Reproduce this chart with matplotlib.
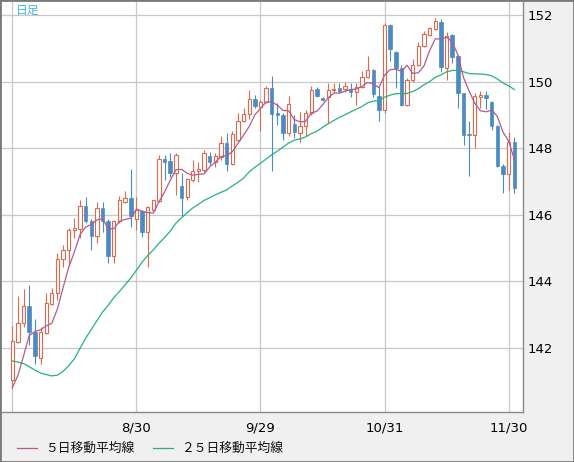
import matplotlib
matplotlib.use('Agg')
import matplotlib.pyplot as plt
import numpy as np
import pandas as pd
from matplotlib.lines import Line2D
from matplotlib.patches import Rectangle

# ---------------- data ----------------
start_date = '2023-07-31'
opens = [141.04, 142.19, 142.74, 143.26, 142.49, 141.69, 142.46, 143.32, 143.66, 144.67,
         144.93, 145.55, 145.57, 146.27, 145.80, 145.35, 146.20, 145.82, 144.77, 145.80,
         146.38, 146.50, 145.86, 146.10, 145.49, 146.15, 146.43, 147.67, 147.63, 147.25,
         146.87, 146.53, 147.04, 147.33, 147.36, 147.78, 147.58, 147.74, 148.16, 147.53,
         148.26, 148.83, 149.02, 149.47, 149.25, 149.40, 149.82, 149.06, 149.01, 148.46,
         148.74, 148.47, 148.68, 149.06, 149.77, 149.52, 149.55, 149.74, 149.80, 149.77,
         149.79, 149.70, 149.84, 150.13, 150.35, 149.57, 149.14, 151.72, 150.90, 150.42,
         149.31, 150.05, 150.50, 151.08, 151.42, 151.58, 151.80, 150.42, 151.41, 150.77,
         149.65, 148.42, 148.41, 149.55, 149.59, 149.40, 148.68, 147.48, 147.22, 148.20]
highs = [142.66, 143.56, 143.76, 143.89, 142.86, 142.64, 143.64, 143.81, 144.85, 145.10,
         145.60, 145.90, 146.45, 146.55, 145.87, 146.40, 146.40, 145.86, 145.84, 146.57,
         146.73, 147.37, 146.53, 146.14, 146.27, 146.45, 147.80, 147.80, 147.87, 147.85,
         147.26, 147.10, 147.66, 147.60, 147.96, 147.88, 147.86, 148.36, 148.46, 148.51,
         149.07, 149.22, 149.74, 149.59, 149.44, 149.87, 150.16, 149.36, 149.06, 149.57,
         149.00, 149.09, 149.16, 149.87, 149.85, 149.55, 149.95, 149.95, 149.95, 149.99,
         149.95, 149.95, 150.32, 150.78, 150.40, 149.84, 151.78, 151.75, 150.92, 150.52,
         150.10, 150.68, 151.20, 151.52, 151.65, 151.92, 151.90, 151.49, 151.45, 150.80,
         149.67, 148.81, 149.67, 149.72, 149.72, 149.42, 148.71, 147.52, 148.48, 148.35]
lows = [140.76, 142.14, 142.64, 142.07, 141.52, 141.52, 142.42, 143.29, 143.44, 144.43,
        144.45, 145.30, 145.30, 145.75, 144.93, 145.15, 145.49, 144.54, 144.56, 145.74,
        146.35, 145.64, 145.54, 145.34, 144.44, 146.12, 146.40, 147.05, 147.15, 146.60,
        145.95, 146.45, 146.98, 147.00, 147.26, 147.50, 147.43, 147.66, 147.31, 147.49,
        148.23, 148.80, 148.87, 149.22, 148.51, 149.37, 147.33, 148.71, 148.25, 148.37,
        148.32, 148.20, 148.37, 149.01, 149.55, 149.43, 148.76, 149.67, 149.67, 149.70,
        149.55, 149.31, 149.81, 150.10, 149.54, 148.81, 149.07, 150.62, 149.81, 149.27,
        149.27, 150.00, 150.48, 151.05, 151.38, 151.55, 150.30, 150.05, 150.57, 149.22,
        148.09, 147.16, 148.01, 149.22, 149.17, 148.56, 147.44, 146.67, 146.75, 146.65]
closes = [142.22, 142.74, 143.26, 142.49, 141.74, 142.47, 143.34, 143.64, 144.67, 144.93,
          145.55, 145.60, 146.27, 145.80, 145.35, 146.20, 145.80, 144.77, 145.80, 146.45,
          146.50, 145.96, 146.15, 145.49, 146.23, 146.44, 147.67, 147.60, 147.25, 147.80,
          146.52, 147.08, 147.31, 147.38, 147.86, 147.58, 147.78, 148.16, 147.53, 148.43,
          148.83, 149.02, 149.47, 149.27, 149.39, 149.82, 149.02, 148.99, 148.47, 149.34,
          148.50, 148.68, 149.06, 149.75, 149.57, 149.46, 149.75, 149.79, 149.72, 149.87,
          149.70, 149.84, 150.15, 150.35, 149.64, 149.14, 151.72, 150.98, 150.42, 149.31,
          150.05, 150.50, 151.08, 151.45, 151.62, 151.82, 150.45, 151.38, 150.74, 149.67,
          148.41, 148.40, 149.57, 149.59, 149.52, 148.66, 147.46, 147.23, 148.20, 146.82]
# closes before the visible window (needed for the moving averages)
warmup_closes = [143.65, 144.45, 144.75, 144.30, 144.65, 144.50, 144.65, 144.10, 142.10,
                 141.35, 140.35, 138.50, 138.10, 138.80, 139.60, 139.25, 139.70, 140.05,
                 141.80, 141.50, 140.90, 140.30, 139.45, 141.15]
grid_labels = ['7/31', '8/30', '9/29', '10/31', '11/30']
shown_labels = ['8/30', '9/29', '10/31', '11/30']
y_ticks = [142, 144, 146, 148, 150, 152]
legend_labels = ['５日移動平均線', '２５日移動平均線']
title_text = '日足'

# ---------------- derived ----------------
o = np.array(opens); h = np.array(highs); l = np.array(lows); c = np.array(closes)
n = len(c)
x = np.arange(n)
dates = pd.bdate_range(start_date, periods=n)
date_txt = [f"{d.month}/{d.day}" for d in dates]
grid_pos = [date_txt.index(s) for s in grid_labels]

series = pd.Series(warmup_closes + closes)
ma5 = series.rolling(5).mean().values[len(warmup_closes):]
ma25 = series.rolling(25).mean().values[len(warmup_closes):]

RED = '#dd6a4f'
BLUE = '#4b8bc2'
PURPLE = '#b55a8e'
GREEN = '#27b27a'
GRID = '#c8c8c8'

W, H = 574, 462
fig = plt.figure(figsize=(W / 100, H / 100), dpi=100, facecolor='#f0f0f0')
ax = fig.add_axes([2 / W, (H - 412) / H, (523 - 2) / W, (412 - 2) / H])
ax.set_facecolor('white')

up = c >= o
wick_colors = [RED if u else BLUE for u in up]
ax.vlines(x, l, h, colors=wick_colors, linewidth=0.8, zorder=2)
ax.bar(x[up], np.maximum((c - o)[up], 0.01), bottom=o[up], width=0.58,
       facecolor='white', edgecolor=RED, linewidth=0.8, zorder=3)
ax.bar(x[~up], np.maximum((o - c)[~up], 0.01), bottom=c[~up], width=0.62,
       facecolor=BLUE, edgecolor=BLUE, linewidth=0.5, zorder=3)

ax.plot(x, ma25, color=GREEN, linewidth=0.9, zorder=4)
ax.plot(x, ma5, color=PURPLE, linewidth=0.9, zorder=4)

ax.set_xlim(-1.83, 90.55)
ax.set_ylim(140.07, 152.4)
ax.set_yticks(y_ticks)
ax.set_yticklabels([str(v) for v in y_ticks])
ax.set_xticks(grid_pos)
ax.set_xticklabels([s if s in shown_labels else '' for s in grid_labels])
ax.yaxis.tick_right()
ax.tick_params(axis='y', length=0, pad=3, labelsize=9.5, colors='black')
ax.tick_params(axis='x', length=0, pad=7, labelsize=9.5, colors='black')
ax.grid(True, color=GRID, linewidth=0.9, zorder=0)
ax.set_axisbelow(True)
for s in ['left', 'top']:
    ax.spines[s].set_visible(False)
for s in ['right', 'bottom']:
    ax.spines[s].set_color('#8a8a8a')
    ax.spines[s].set_linewidth(1.0)

fig.text(16 / W, 1 - 10 / H, title_text, color='#3db5e8', fontsize=8.5,
         family=['Noto Sans CJK JP', 'DejaVu Sans'], va='center', ha='left')

# legend
ly = 1 - 448 / H
fig.add_artist(Line2D([16.5 / W, 36.6 / W], [ly, ly], color=PURPLE, linewidth=0.9,
                      transform=fig.transFigure))
fig.text(45 / W, ly, legend_labels[0], fontsize=9.2, va='center', ha='left',
         family=['Noto Sans CJK JP', 'DejaVu Sans'], color='#111111')
fig.add_artist(Line2D([153 / W, 173 / W], [ly, ly], color=GREEN, linewidth=0.9,
                      transform=fig.transFigure))
fig.text(181 / W, ly, legend_labels[1], fontsize=9.2, va='center', ha='left',
         family=['Noto Sans CJK JP', 'DejaVu Sans'], color='#111111')

fig.add_artist(Rectangle((0, 0), 1, 1, transform=fig.transFigure, fill=False,
                         edgecolor='#7a7a7a', linewidth=2.0))

fig.savefig('out.png', dpi=100, facecolor=fig.get_facecolor())
